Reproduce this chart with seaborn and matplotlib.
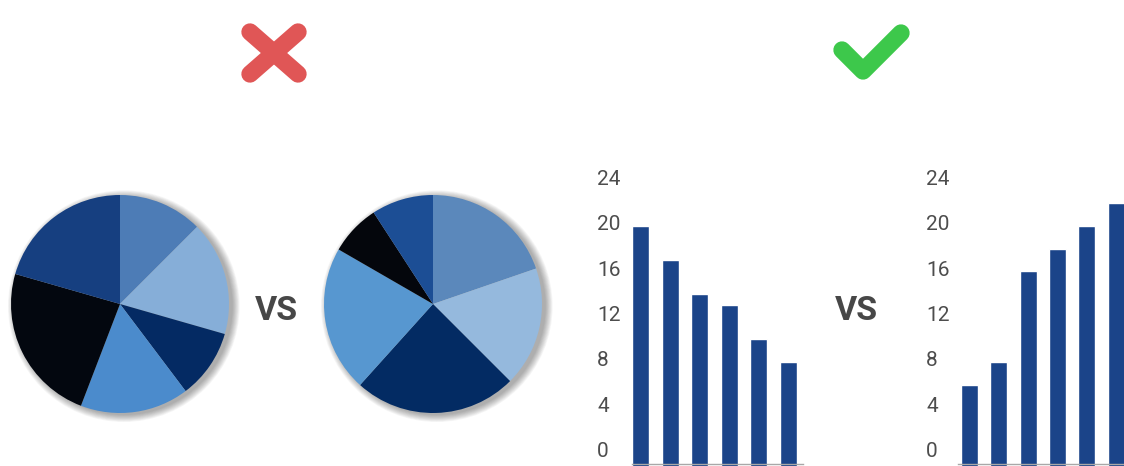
import matplotlib
matplotlib.use("Agg")
import matplotlib.pyplot as plt
import matplotlib.transforms as mtransforms
from matplotlib.patches import Circle
import seaborn as sns

# ---------- data ----------
pie_bad_sizes = [45, 61, 37, 58, 85, 74]
pie_bad_colors = ["#4d7cb6", "#86aed8", "#042a63", "#4b8bcc", "#03070f", "#163f80"]
pie_good_sizes = [71, 64, 87, 78, 27, 33]
pie_good_colors = ["#5b88bb", "#95b9dd", "#032b63", "#5797d0", "#04060c", "#1c4e95"]

bar_categories = ["A", "B", "C", "D", "E", "F"]
bar_bad_values = [20, 17, 14, 13, 10, 8]
bar_good_values = [6, 8, 16, 18, 20, 22]
y_ticks = [0, 4, 8, 12, 16, 20, 24]

BAR_COLOR = "#1b4489"
W, H = 1124, 466

sns.set_theme(style="white")
plt.rcParams["font.family"] = ["Roboto", "DejaVu Sans"]

fig = plt.figure(figsize=(W / 100, H / 100), dpi=100)


def px_axes(x0, y0, w, h):
    # axes placed with top-left pixel coords
    return fig.add_axes([x0 / W, 1 - (y0 + h) / H, w / W, h / H])


# overlay for icons and "VS"
over = px_axes(0, 0, W, H)
over.set_xlim(0, W)
over.set_ylim(H, 0)
over.axis("off")
over.plot([250, 298], [32, 74], color="#e05656", lw=12.5, solid_capstyle="round")
over.plot([298, 250], [32, 74], color="#e05656", lw=12.5, solid_capstyle="round")
over.plot([842, 863, 901], [50, 71, 33], color="#3dc84b", lw=12.5,
          solid_capstyle="round", solid_joinstyle="round")
for x in [276, 856]:
    over.text(x, 311, "VS", ha="center", va="center", fontsize=24.5,
              fontweight="bold", color="#474747")


def draw_pie(cx, cy, r, sizes, colors):
    m = 1.2
    ax = px_axes(cx - r * m, cy - r * m, 2 * r * m, 2 * r * m)
    for k in range(10):
        ax.add_patch(Circle((0.035, -0.02), 1.0 + 0.007 * k, color="black",
                            alpha=0.035, lw=0, zorder=0))
    ax.pie(sizes, colors=colors, startangle=90, counterclock=False, radius=1,
           wedgeprops=dict(linewidth=0))
    ax.set_xlim(-m, m)
    ax.set_ylim(-m, m)
    ax.set_aspect("equal")
    ax.axis("off")


draw_pie(120, 304, 109, pie_bad_sizes, pie_bad_colors)
draw_pie(433, 304, 109, pie_good_sizes, pie_good_colors)


def draw_bars(left, width, xlim, values, label_pad):
    ax = px_axes(left, 169.3, width, H - 169.3)
    sns.barplot(x=bar_categories, y=values, color=BAR_COLOR, saturation=1,
                width=0.58, ax=ax)
    for p in ax.patches:
        top = p.get_y() + p.get_height()
        p.set_y(-1.3)
        p.set_height(top + 1.3)
    ax.set_xlim(*xlim)
    ax.set_ylim(-1.19, 25)
    ax.set_facecolor("none")
    for s in ["left", "right", "top"]:
        ax.spines[s].set_visible(False)
    ax.spines["bottom"].set_position(("data", -1.0))
    ax.spines["bottom"].set_color("#a8a8a8")
    ax.spines["bottom"].set_linewidth(1)
    ax.set_xticks([])
    ax.set_xlabel("")
    ax.set_yticks(y_ticks)
    ax.set_yticklabels([str(t) for t in y_ticks])
    ax.tick_params(axis="y", length=0, pad=label_pad, labelsize=15,
                   labelcolor="#4d4d4d")
    shift = mtransforms.ScaledTranslation(0, 0.03, fig.dpi_scale_trans)
    for lab in ax.get_yticklabels():
        lab.set_horizontalalignment("left")
        lab.set_transform(lab.get_transform() + shift)
    return ax


draw_bars(632, 171, (-0.3, 5.5), bar_bad_values, 25.2)
draw_bars(958, 166, (-0.4, 5.27), bar_good_values, 23)

fig.savefig("out.png", dpi=100)
